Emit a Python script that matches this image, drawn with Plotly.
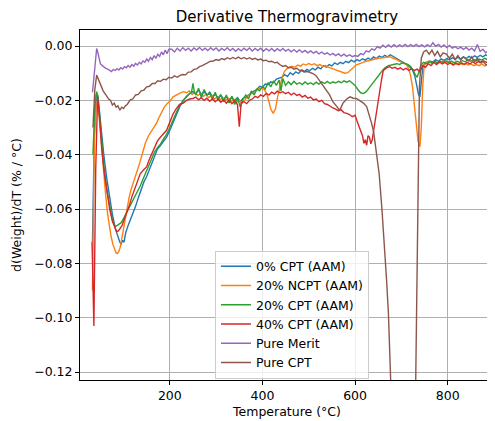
import plotly.graph_objects as go

title_text = "Derivative Thermogravimetry"
x_label = "Temperature (°C)"
y_label = "d(Weight)/dT (% / °C)"
series_names = ["0% CPT (AAM)", "20% NCPT (AAM)", "20% CPT (AAM)", "40% CPT (AAM)", "Pure Merit", "Pure CPT"]
series_colors = ["#1f77b4", "#ff7f0e", "#2ca02c", "#d62728", "#9467bd", "#8c564b"]
x_tick_vals = [200, 400, 600, 800]
y_tick_vals = [0.0, -0.02, -0.04, -0.06, -0.08, -0.10, -0.12]
y_tick_text = ["0.00", "−0.02", "−0.04", "−0.06", "−0.08", "−0.10", "−0.12"]

# (temperature, dW/dT) pairs
cpt0 = [(33,-0.072),(37,-0.032),(41,-0.018),(44,-0.018),(48,-0.024),(53,-0.033),(58,-0.041),(64,-0.049),(70,-0.056),(76,-0.062),(82,-0.067),(86,-0.069),(89,-0.0712),(92,-0.0722),(95,-0.0728),(98,-0.0715),(101,-0.0722),(105,-0.0685),(110,-0.066),(115,-0.0638),(120,-0.062),(126,-0.059),(132,-0.0558),(138,-0.0528),(144,-0.050),(150,-0.048),(156,-0.0455),(161,-0.043),(167,-0.0405),(173,-0.038),(180,-0.0365),(187,-0.035),(193,-0.0335),(200,-0.031),(207,-0.028),(214,-0.025),(221,-0.0225),(229,-0.0199),(236,-0.0185),(243,-0.0175),(250,-0.0168),(256,-0.0175),(262,-0.0162),(268,-0.0178),(274,-0.0168),(280,-0.0182),(286,-0.017),(292,-0.0185),(298,-0.0178),(304,-0.019),(310,-0.0182),(316,-0.0195),(322,-0.0186),(328,-0.0198),(334,-0.0188),(340,-0.02),(346,-0.019),(352,-0.0205),(358,-0.0192),(364,-0.0188),(370,-0.018),(376,-0.0172),(382,-0.0165),(388,-0.016),(394,-0.0148),(400,-0.0152),(406,-0.014),(412,-0.0142),(418,-0.0132),(424,-0.0135),(430,-0.0122),(436,-0.0118),(442,-0.0115),(448,-0.0105),(454,-0.0112),(460,-0.0098),(466,-0.0106),(472,-0.0095),(478,-0.0101),(484,-0.009),(490,-0.0096),(496,-0.0086),(502,-0.0091),(508,-0.0082),(514,-0.0088),(520,-0.0078),(526,-0.0084),(532,-0.0072),(538,-0.0078),(544,-0.0068),(550,-0.0073),(556,-0.0062),(562,-0.0068),(568,-0.006),(574,-0.0065),(580,-0.0056),(586,-0.0061),(592,-0.0052),(598,-0.0058),(604,-0.005),(610,-0.0055),(616,-0.0047),(622,-0.0052),(628,-0.0044),(634,-0.005),(640,-0.004),(646,-0.0046),(652,-0.0037),(658,-0.0042),(664,-0.0034),(670,-0.004),(676,-0.0032),(682,-0.0038),(688,-0.0043),(694,-0.005),(700,-0.0056),(706,-0.0062),(712,-0.0068),(718,-0.0077),(724,-0.0088),(729,-0.011),(733,-0.0145),(737,-0.0178),(740,-0.0187),(743,-0.013),(746,-0.008),(750,-0.0064),(756,-0.0058),(762,-0.0055),(768,-0.0059),(774,-0.005),(780,-0.0056),(786,-0.0047),(792,-0.0053),(798,-0.0046),(804,-0.0051),(810,-0.0043),(816,-0.0049),(822,-0.0041),(828,-0.0047),(834,-0.004),(840,-0.0046),(846,-0.0038),(852,-0.0044),(858,-0.0036),(864,-0.0042),(870,-0.0034),(876,-0.004),(882,-0.0032),(888,-0.0038),(894,-0.003),(900,-0.0035)]

ncpt20 = [(33,-0.09),(37,-0.035),(41,-0.021),(45,-0.022),(49,-0.029),(53,-0.038),(57,-0.046),(61,-0.054),(65,-0.061),(69,-0.066),(73,-0.070),(77,-0.073),(81,-0.0752),(84,-0.0762),(87,-0.0763),(90,-0.0755),(93,-0.074),(96,-0.071),(100,-0.067),(104,-0.063),(108,-0.059),(112,-0.0558),(116,-0.053),(120,-0.051),(125,-0.048),(130,-0.0455),(135,-0.043),(140,-0.040),(147,-0.0358),(154,-0.033),(161,-0.031),(166,-0.0298),(171,-0.0285),(176,-0.0265),(182,-0.0242),(188,-0.0225),(194,-0.0212),(200,-0.0203),(207,-0.0187),(214,-0.0182),(221,-0.0174),(229,-0.0168),(236,-0.0172),(242,-0.0165),(248,-0.0178),(254,-0.017),(260,-0.0182),(266,-0.0175),(272,-0.0185),(278,-0.0178),(284,-0.019),(290,-0.0182),(296,-0.0195),(302,-0.0188),(308,-0.0198),(314,-0.019),(320,-0.02),(326,-0.0192),(332,-0.0205),(338,-0.0196),(344,-0.0208),(350,-0.02),(356,-0.021),(362,-0.0198),(368,-0.0185),(374,-0.0178),(380,-0.017),(386,-0.0165),(392,-0.0158),(398,-0.0155),(404,-0.016),(409,-0.0175),(414,-0.0205),(418,-0.0232),(423,-0.0248),(428,-0.0232),(433,-0.0185),(437,-0.015),(442,-0.0118),(447,-0.0095),(452,-0.0085),(458,-0.0078),(464,-0.0075),(470,-0.0078),(476,-0.007),(482,-0.0074),(488,-0.0066),(494,-0.007),(500,-0.0064),(506,-0.0069),(512,-0.0065),(518,-0.0072),(524,-0.0068),(530,-0.0075),(536,-0.0072),(542,-0.0078),(548,-0.0082),(554,-0.0085),(560,-0.009),(566,-0.0092),(572,-0.0098),(578,-0.01),(584,-0.0098),(590,-0.009),(596,-0.008),(602,-0.007),(608,-0.0065),(614,-0.006),(620,-0.0058),(626,-0.0055),(632,-0.0052),(638,-0.005),(644,-0.0048),(650,-0.0045),(656,-0.0044),(662,-0.0042),(668,-0.004),(675,-0.0039),(682,-0.0045),(688,-0.0048),(694,-0.0055),(700,-0.006),(706,-0.0063),(711,-0.0068),(716,-0.0085),(720,-0.011),(724,-0.015),(728,-0.021),(732,-0.029),(736,-0.035),(740,-0.037),(743,-0.03),(746,-0.015),(749,-0.0075),(753,-0.006),(760,-0.0055),(766,-0.0062),(772,-0.0058),(778,-0.0065),(784,-0.006),(790,-0.0055),(796,-0.006),(802,-0.0058),(808,-0.0065),(814,-0.006),(820,-0.0068),(826,-0.0062),(832,-0.0068),(838,-0.0064),(844,-0.007),(850,-0.0066),(856,-0.0072),(862,-0.0068),(868,-0.0072),(874,-0.0066),(880,-0.0073),(886,-0.0068),(892,-0.0065),(898,-0.0063)]

cpt20 = [(34,-0.04),(38,-0.022),(42,-0.0168),(45,-0.019),(48,-0.025),(53,-0.036),(58,-0.045),(64,-0.053),(70,-0.059),(76,-0.064),(82,-0.0665),(86,-0.066),(90,-0.0655),(95,-0.065),(100,-0.0635),(106,-0.0615),(112,-0.060),(118,-0.058),(124,-0.056),(130,-0.054),(136,-0.0515),(142,-0.049),(148,-0.0465),(155,-0.044),(161,-0.041),(167,-0.039),(173,-0.0375),(180,-0.036),(187,-0.034),(193,-0.0325),(200,-0.030),(207,-0.027),(214,-0.0245),(221,-0.022),(229,-0.020),(236,-0.0185),(243,-0.0175),(247,-0.0168),(250,-0.0137),(253,-0.0172),(256,-0.018),(262,-0.0155),(268,-0.019),(274,-0.016),(280,-0.018),(286,-0.0175),(292,-0.0195),(298,-0.017),(304,-0.02),(310,-0.0178),(316,-0.0205),(322,-0.018),(328,-0.021),(334,-0.0185),(340,-0.0215),(346,-0.019),(352,-0.0225),(358,-0.0195),(364,-0.018),(370,-0.0195),(376,-0.0165),(382,-0.018),(388,-0.0158),(394,-0.0165),(400,-0.0148),(406,-0.0158),(412,-0.0135),(418,-0.015),(424,-0.0128),(430,-0.0145),(436,-0.0125),(440,-0.0165),(444,-0.012),(450,-0.0145),(456,-0.0132),(462,-0.0142),(468,-0.013),(474,-0.014),(480,-0.0135),(486,-0.0142),(492,-0.0132),(498,-0.014),(504,-0.0135),(510,-0.0142),(516,-0.0133),(522,-0.014),(528,-0.0132),(534,-0.0138),(540,-0.013),(546,-0.0138),(552,-0.0132),(558,-0.0136),(564,-0.013),(570,-0.0135),(576,-0.0128),(582,-0.0133),(588,-0.0128),(594,-0.0135),(600,-0.0145),(606,-0.016),(612,-0.0172),(618,-0.0175),(624,-0.0168),(630,-0.0155),(636,-0.014),(642,-0.0128),(648,-0.0115),(654,-0.01),(660,-0.0088),(666,-0.0078),(672,-0.0072),(678,-0.007),(684,-0.0068),(690,-0.0065),(696,-0.0068),(702,-0.0062),(708,-0.0065),(714,-0.0068),(720,-0.0075),(726,-0.009),(730,-0.0105),(734,-0.0115),(738,-0.0095),(742,-0.007),(748,-0.006),(754,-0.0065),(760,-0.0058),(766,-0.0063),(772,-0.0056),(778,-0.0062),(784,-0.0055),(790,-0.006),(796,-0.0054),(802,-0.006),(808,-0.0055),(814,-0.0062),(820,-0.0056),(826,-0.006),(832,-0.0054),(838,-0.0058),(844,-0.005),(850,-0.0056),(856,-0.005),(862,-0.0055),(868,-0.0048),(874,-0.0052),(880,-0.0045),(886,-0.005),(892,-0.0042),(896,-0.003),(900,-0.0045)]

cpt40 = [(32,-0.072),(36,-0.103),(40,-0.045),(44,-0.0187),(48,-0.026),(53,-0.038),(58,-0.046),(64,-0.054),(70,-0.060),(76,-0.0645),(81,-0.067),(85,-0.0683),(89,-0.068),(93,-0.067),(97,-0.066),(101,-0.064),(106,-0.062),(112,-0.059),(118,-0.0555),(124,-0.0525),(130,-0.050),(136,-0.047),(142,-0.0458),(150,-0.0444),(155,-0.042),(161,-0.0395),(167,-0.037),(173,-0.035),(180,-0.0335),(187,-0.032),(193,-0.031),(200,-0.028),(207,-0.025),(214,-0.023),(221,-0.0215),(229,-0.021),(236,-0.020),(243,-0.0195),(250,-0.0193),(256,-0.0188),(262,-0.0198),(268,-0.019),(274,-0.02),(280,-0.0192),(286,-0.0203),(292,-0.0195),(298,-0.0205),(304,-0.0196),(310,-0.0207),(316,-0.0198),(322,-0.021),(328,-0.02),(334,-0.0212),(340,-0.0202),(346,-0.0215),(350,-0.0297),(354,-0.021),(360,-0.0205),(366,-0.0212),(372,-0.02),(378,-0.0195),(384,-0.0185),(390,-0.019),(396,-0.018),(402,-0.0185),(408,-0.0175),(414,-0.018),(420,-0.017),(426,-0.0176),(432,-0.0166),(438,-0.0172),(444,-0.0168),(450,-0.0175),(456,-0.017),(462,-0.018),(468,-0.0173),(474,-0.0182),(480,-0.0178),(486,-0.0188),(492,-0.0182),(498,-0.0192),(504,-0.0188),(510,-0.0198),(516,-0.0195),(522,-0.0205),(528,-0.02),(534,-0.0212),(540,-0.0215),(546,-0.0222),(552,-0.0228),(558,-0.0232),(564,-0.0238),(570,-0.0235),(576,-0.0245),(582,-0.0248),(588,-0.0252),(594,-0.026),(600,-0.0255),(604,-0.0275),(608,-0.0295),(612,-0.031),(616,-0.033),(619,-0.0358),(622,-0.0345),(625,-0.0365),(628,-0.033),(631,-0.0335),(634,-0.036),(637,-0.0345),(640,-0.031),(643,-0.027),(646,-0.0235),(650,-0.0199),(653,-0.016),(657,-0.0125),(661,-0.009),(665,-0.0085),(670,-0.0078),(675,-0.0076),(680,-0.0082),(686,-0.0078),(692,-0.0085),(698,-0.008),(704,-0.0088),(710,-0.0082),(716,-0.009),(722,-0.0084),(728,-0.009),(734,-0.0085),(740,-0.0095),(746,-0.0072),(752,-0.0078),(758,-0.0065),(764,-0.0072),(770,-0.006),(776,-0.0068),(782,-0.0058),(788,-0.0066),(794,-0.006),(800,-0.0068),(806,-0.0062),(812,-0.007),(818,-0.0063),(824,-0.0069),(830,-0.0062),(836,-0.0068),(842,-0.006),(848,-0.0066),(854,-0.0058),(860,-0.0065),(866,-0.0057),(872,-0.0062),(878,-0.0055),(884,-0.006),(890,-0.0052),(896,-0.0058),(900,-0.0052)]

merit = [(33,-0.017),(37,-0.009),(40,-0.003),(42,-0.0009),(44,-0.002),(47,-0.005),(50,-0.0065),(54,-0.0072),(58,-0.0078),(62,-0.0082),(66,-0.0085),(70,-0.0088),(74,-0.0094),(78,-0.0086),(82,-0.009),(86,-0.0083),(90,-0.0088),(94,-0.008),(98,-0.0085),(102,-0.0076),(106,-0.008),(110,-0.0072),(114,-0.0078),(118,-0.0068),(122,-0.0074),(126,-0.0064),(130,-0.007),(134,-0.006),(138,-0.0066),(142,-0.0055),(146,-0.006),(150,-0.0048),(154,-0.0056),(158,-0.0042),(162,-0.005),(166,-0.0035),(170,-0.0045),(174,-0.003),(178,-0.0038),(182,-0.0022),(186,-0.0032),(190,-0.0015),(194,-0.0028),(198,-0.0012),(204,-0.0012),(210,-0.0022),(216,-0.0008),(222,-0.0018),(228,-0.0006),(234,-0.0016),(240,-0.0008),(246,-0.0018),(252,-0.0007),(258,-0.0015),(264,-0.0005),(270,-0.0016),(276,-0.0008),(282,-0.0017),(288,-0.0006),(294,-0.0015),(300,-0.0007),(306,-0.0018),(312,-0.0009),(318,-0.0016),(324,-0.0006),(330,-0.0017),(336,-0.0009),(342,-0.0019),(348,-0.001),(354,-0.0018),(360,-0.0008),(366,-0.0016),(372,-0.0007),(378,-0.0018),(384,-0.0009),(390,-0.0017),(396,-0.0008),(402,-0.0019),(408,-0.001),(414,-0.0018),(420,-0.0009),(426,-0.0019),(432,-0.001),(438,-0.0018),(444,-0.0009),(450,-0.0019),(456,-0.0012),(462,-0.0021),(468,-0.0013),(474,-0.0022),(480,-0.0014),(486,-0.0023),(492,-0.0016),(498,-0.0025),(504,-0.0018),(510,-0.0026),(516,-0.002),(522,-0.0029),(528,-0.0022),(534,-0.003),(540,-0.0025),(546,-0.0033),(552,-0.0027),(558,-0.0035),(564,-0.0029),(570,-0.0037),(576,-0.003),(582,-0.0038),(588,-0.0032),(594,-0.0039),(600,-0.0035),(606,-0.0038),(612,-0.0028),(618,-0.0032),(624,-0.0018),(630,-0.0022),(636,-0.001),(642,-0.0015),(648,-0.0002),(654,-0.0008),(660,0.0003),(666,-0.0005),(672,0.0004),(678,-0.0004),(684,0.0005),(690,-0.0003),(696,0.0004),(702,-0.0002),(708,0.0006),(714,-0.0002),(720,0.0005),(726,-0.0001),(732,0.0006),(738,-0.0002),(744,0.0004),(750,-0.0003),(756,0.0005),(762,-0.0002),(768,0.0012),(774,-0.0001),(780,0.0006),(786,-0.0004),(792,0.0004),(798,-0.0006),(804,0.0002),(810,-0.0008),(816,-0.0002),(822,-0.001),(828,-0.0004),(834,-0.0012),(840,-0.0005),(846,-0.0015),(852,-0.0008),(858,-0.0018),(864,0.0006),(870,-0.002),(876,-0.0012),(882,-0.0025),(888,-0.0018),(894,-0.0028),(900,-0.0022)]

cpt_pure = [(34,-0.03),(38,-0.016),(42,-0.0107),(45,-0.012),(48,-0.0135),(52,-0.015),(56,-0.0165),(60,-0.0175),(64,-0.0185),(68,-0.0195),(72,-0.020),(76,-0.0217),(80,-0.021),(84,-0.0225),(88,-0.022),(92,-0.0236),(96,-0.0225),(100,-0.023),(104,-0.022),(108,-0.0215),(114,-0.0199),(120,-0.0195),(126,-0.018),(132,-0.0178),(138,-0.0165),(144,-0.0162),(150,-0.015),(156,-0.0148),(162,-0.0138),(168,-0.0138),(174,-0.0128),(180,-0.013),(186,-0.0122),(192,-0.0124),(198,-0.0115),(204,-0.0118),(210,-0.011),(216,-0.0115),(222,-0.0108),(228,-0.0105),(234,-0.0106),(240,-0.0096),(246,-0.0095),(252,-0.0086),(258,-0.0084),(264,-0.0076),(270,-0.0072),(276,-0.0066),(282,-0.0062),(288,-0.0056),(294,-0.0055),(300,-0.005),(306,-0.0053),(312,-0.0046),(318,-0.005),(324,-0.0043),(330,-0.0048),(336,-0.0042),(342,-0.0047),(348,-0.0041),(354,-0.0047),(360,-0.0042),(366,-0.0048),(372,-0.0043),(378,-0.0049),(384,-0.0045),(390,-0.0051),(396,-0.0048),(402,-0.0054),(408,-0.0052),(414,-0.0058),(420,-0.0056),(426,-0.0062),(432,-0.006),(437,-0.0068),(444,-0.0075),(450,-0.0072),(456,-0.008),(462,-0.0078),(468,-0.0085),(474,-0.0082),(480,-0.009),(486,-0.0088),(492,-0.0095),(498,-0.0094),(504,-0.0098),(510,-0.0102),(516,-0.011),(524,-0.013),(531,-0.0148),(538,-0.0162),(545,-0.018),(552,-0.0205),(560,-0.022),(567,-0.0236),(574,-0.021),(582,-0.0195),(589,-0.0187),(596,-0.0192),(603,-0.0193),(610,-0.0202),(618,-0.021),(625,-0.0223),(630,-0.025),(635,-0.028),(640,-0.0315),(646,-0.040),(652,-0.047),(658,-0.060),(664,-0.0739),(668,-0.086),(672,-0.0984),(676,-0.116),(680,-0.138),(690,-0.19),(700,-0.25),(712,-0.30),(720,-0.26),(726,-0.19),(729,-0.15),(731,-0.123),(734,-0.07),(736,-0.037),(739,-0.015),(743,-0.0045),(748,-0.0022),(754,-0.0015),(760,-0.003),(766,-0.0015),(772,-0.0035),(778,-0.002),(784,-0.004),(790,-0.0025),(797,-0.003),(804,-0.0045),(810,-0.003),(816,-0.005),(822,-0.0035),(828,-0.0052),(834,-0.004),(840,-0.0048),(846,-0.0055),(852,-0.004),(858,-0.0058),(864,-0.0045),(870,-0.006),(876,-0.0055),(882,-0.0068),(888,-0.0072),(894,-0.0085),(900,-0.0094)]

all_series = [cpt0, ncpt20, cpt20, cpt40, merit, cpt_pure]

FONT = "DejaVu Sans"
# the page body keeps its default 8px margin, so the figure is drawn 8px in and 8px down
FIG_W, FIG_H = 487, 413

fig = go.Figure()
for name, color, data in zip(series_names, series_colors, all_series):
    xs = [p[0] for p in data]
    ys = [p[1] for p in data]
    fig.add_trace(go.Scatter(x=xs, y=ys, mode="lines", name=name,
                             line=dict(color=color, width=1.4)))

axis_common = dict(showline=True, linecolor="black", linewidth=1, mirror=True,
                   ticks="outside", ticklen=4, tickcolor="black", tickwidth=1,
                   showgrid=True, gridcolor="#b0b0b0", gridwidth=0.8,
                   zeroline=False, tickfont=dict(family=FONT, size=12.5, color="black"))

fig.update_layout(
    width=FIG_W, height=FIG_H,
    margin=dict(l=72, r=1, t=22, b=41),
    paper_bgcolor="white", plot_bgcolor="white",
    font=dict(family=FONT, size=12.5, color="black"),
    title=dict(text=title_text, x=0.5, xref="paper", y=1 - 9 / FIG_H, yref="container",
               xanchor="center", yanchor="middle", font=dict(family=FONT, size=15, color="black")),
    xaxis=dict(range=[6, 900], tickvals=x_tick_vals,
               title=dict(text=x_label, font=dict(family=FONT, size=12.5), standoff=5),
               **axis_common),
    yaxis=dict(range=[-0.1229, 0.0059], tickvals=y_tick_vals, ticktext=y_tick_text,
               title=dict(text=y_label, font=dict(family=FONT, size=12.5), standoff=9),
               **axis_common),
    legend=dict(x=0.512, y=0.004, xanchor="center", yanchor="bottom",
                bgcolor="rgba(255,255,255,0.8)", bordercolor="#cccccc", borderwidth=1,
                font=dict(family=FONT, size=12.5, color="black"), tracegroupgap=0),
    showlegend=True,
)

fig.write_html("out.html")
